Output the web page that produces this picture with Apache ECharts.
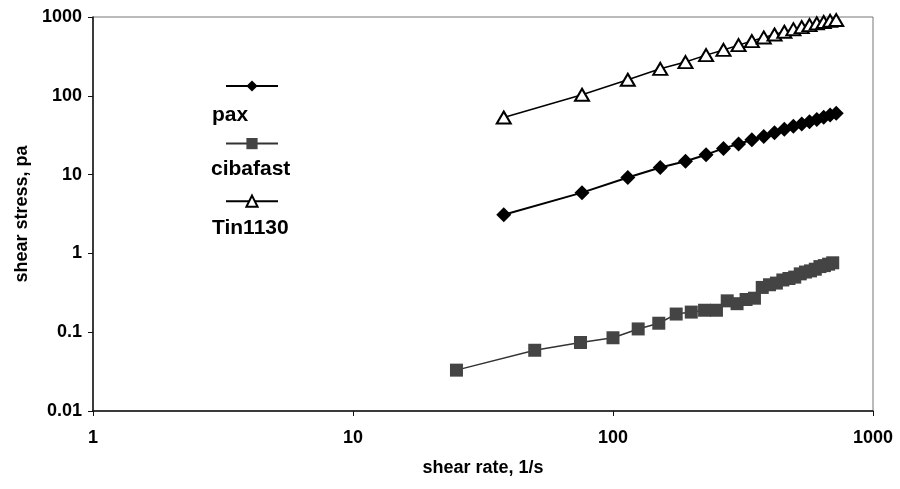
<!DOCTYPE html>
<html><head><meta charset="utf-8">
<script src="https://cdn.jsdelivr.net/npm/echarts@6/dist/echarts.min.js"></script>
<style>html,body{margin:0;padding:0;background:#fff}#c{width:900px;height:489px}</style>
</head><body><div id="c"></div>
<script>
const seriesNames = ['pax', 'cibafast', 'Tin1130'];
const xTickLabels = ['1', '10', '100', '1000'];
const yTickLabels = ['0.01', '0.1', '1', '10', '100', '1000'];
const xTitle = 'shear rate, 1/s';
const yTitle = 'shear stress, pa';

const paxRate = [38, 76, 114, 152, 190, 228, 266, 304, 342, 380, 418, 456, 494, 532, 570, 608, 646, 684, 722];
const paxStress = [3.1, 5.9, 9.2, 12.3, 14.8, 17.9, 21.5, 24.5, 27.7, 30.5, 34, 37.5, 41, 44, 47, 50, 53.5, 57, 60];

const cibaRate = [25, 50, 75, 100, 125, 150, 175, 200, 225, 250, 275, 300, 325, 350, 375, 400, 425, 450, 475, 500, 525, 550, 575, 600, 625, 650, 675, 700];
const cibaStress = [0.033, 0.059, 0.074, 0.085, 0.11, 0.13, 0.17, 0.18, 0.19, 0.19, 0.25, 0.23, 0.26, 0.27, 0.37, 0.40, 0.42, 0.46, 0.48, 0.50, 0.55, 0.58, 0.60, 0.63, 0.68, 0.70, 0.73, 0.76];

const tinRate = [38, 76, 114, 152, 190, 228, 266, 304, 342, 380, 418, 456, 494, 532, 570, 608, 646, 684, 722];
const tinStress = [53, 103, 160, 220, 268, 328, 382, 440, 495, 550, 600, 650, 700, 745, 790, 830, 865, 895, 915];

const FONT = '"Liberation Sans", Arial, sans-serif';
const pairs = (xs, ys) => xs.map((x, i) => [x, ys[i]]);
const fmt = (labels) => (v) => {
  const s = String(parseFloat(Number(v).toPrecision(6)));
  return labels.includes(s) ? s : '';
};

const chart = echarts.init(document.getElementById('c'), null, {renderer: 'canvas'});
chart.setOption({
  animation: false,
  backgroundColor: '#fff',
  grid: {left: 93, right: 27, top: 17, bottom: 78, show: true, borderColor: '#777', borderWidth: 1},
  xAxis: {
    type: 'log', logBase: 10, min: 1, max: 1000,
    axisLine: {lineStyle: {color: '#111', width: 1.5}},
    axisTick: {show: true, inside: false, length: 5, lineStyle: {color: '#111'}},
    minorTick: {show: false},
    splitLine: {show: false},
    axisLabel: {formatter: fmt(xTickLabels), color: '#000', fontFamily: FONT, fontWeight: 'bold', fontSize: 18, margin: 18},
    name: xTitle, nameLocation: 'middle', nameGap: 48,
    nameTextStyle: {color: '#000', fontFamily: FONT, fontWeight: 'bold', fontSize: 18}
  },
  yAxis: {
    type: 'log', logBase: 10, min: 0.01, max: 1000,
    axisLine: {lineStyle: {color: '#111', width: 1.5}},
    axisTick: {show: true, inside: false, length: 5, lineStyle: {color: '#111'}},
    minorTick: {show: false},
    splitLine: {show: false},
    axisLabel: {formatter: fmt(yTickLabels), color: '#000', fontFamily: FONT, fontWeight: 'bold', fontSize: 18, margin: 11},
    name: yTitle, nameLocation: 'middle', nameGap: 62,
    nameTextStyle: {color: '#000', fontFamily: FONT, fontWeight: 'bold', fontSize: 18}
  },
  legend: {
    orient: 'vertical', left: 220, top: 74,
    itemWidth: 52, itemHeight: 14, itemGap: 45,
    formatter: () => '',
    textStyle: {fontSize: 1},
    selectedMode: false,
    data: seriesNames
  },
  graphic: [
    {type: 'text', left: 212, top: 105, style: {text: seriesNames[0], font: 'bold 21px ' + FONT, fill: '#000'}},
    {type: 'text', left: 211, top: 159, style: {text: seriesNames[1], font: 'bold 21px ' + FONT, fill: '#000'}},
    {type: 'text', left: 212, top: 218, style: {text: seriesNames[2], font: 'bold 21px ' + FONT, fill: '#000'}}
  ],
  series: [
    {
      name: seriesNames[0], type: 'line', data: pairs(paxRate, paxStress),
      symbol: 'diamond', symbolSize: 15,
      itemStyle: {color: '#000'},
      lineStyle: {color: '#000', width: 2}
    },
    {
      name: seriesNames[1], type: 'line', data: pairs(cibaRate, cibaStress),
      symbol: 'rect', symbolSize: 13,
      itemStyle: {color: '#444'},
      lineStyle: {color: '#333', width: 1.5}
    },
    {
      name: seriesNames[2], type: 'line', data: pairs(tinRate, tinStress),
      symbol: 'triangle', symbolSize: [14, 12],
      itemStyle: {color: '#fff', borderColor: '#000', borderWidth: 2},
      lineStyle: {color: '#000', width: 1.5}
    }
  ]
});
</script>
</body></html>
